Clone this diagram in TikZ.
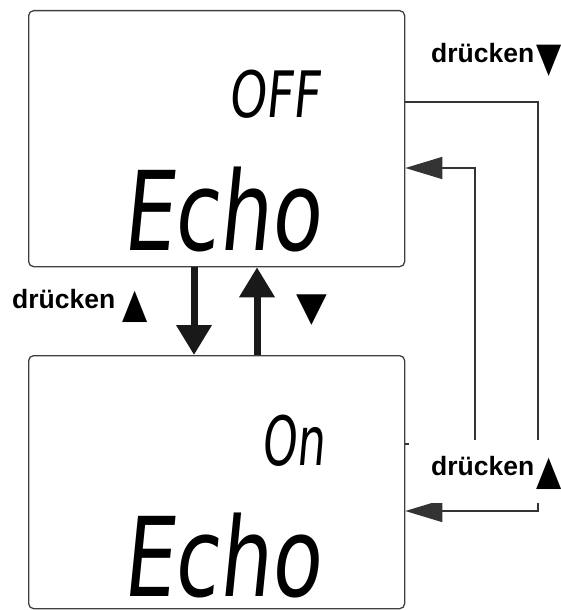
\documentclass[tikz,border=0pt]{standalone}
\usepackage{fontspec}
\usepackage{graphicx}
\setmainfont{Liberation Sans}
\newfontfamily\lcdfont[FakeStretch=0.74,FakeSlant=0.10]{DejaVu Sans}
\newfontfamily\symfont{DejaVu Sans}
\usetikzlibrary{arrows.meta}

% key-triangle that hangs below the baseline like the printed symbols
\newcommand{\keysym}[1]{\raisebox{-9pt}{\scalebox{0.8}[1]{\symfont\fontsize{41}{41}\selectfont #1}}}

\begin{document}
\begin{tikzpicture}[x=1pt,y=-1pt,
  screen/.style={draw=black!75, line width=1.3pt, rounded corners=5pt,
                 minimum width=376pt, inner sep=0pt, anchor=north west},
  link/.style={draw=black!80, line width=1.5pt},
  linkhead/.style={-{Triangle[length=37pt,width=22pt]}},
  bigarrow/.style={draw=black!90, line width=7pt,
                   -{Triangle[length=30pt,width=34pt]}},
  keylabel/.style={font=\bfseries\fontsize{26.5}{30}\selectfont,
                   inner sep=0pt, anchor=base west},
  lcd/.style={inner sep=0pt, anchor=base west, text depth=0pt}
]
\useasboundingbox (0,0) rectangle (560,610);

% the two display screens
\node[screen, minimum height=256pt] (off) at (28,10) {};
\node[screen, minimum height=253pt] (on)  at (28,355) {};

% display readings
\node[lcd, font=\lcdfont\fontsize{64}{64}\selectfont] (offval) at (228,117) {OFF};
\node[lcd, font=\lcdfont\fontsize{110}{110}\selectfont] (offecho) at (122,250) {Echo};
\node[lcd, font=\lcdfont\fontsize{68}{68}\selectfont] (onval) at (261,465) {\scalebox{0.88}[1]{On}};
\node[lcd, font=\lcdfont\fontsize{110}{110}\selectfont] (onecho) at (122,596) {Echo};

% direct switching between the screens
\coordinate (dn) at (194,0);
\coordinate (up) at (257,0);
\draw[bigarrow] (off.south -| dn) -- (on.north -| dn);
\draw[bigarrow] (on.north -| up) -- (off.south -| up);
\node[keylabel] (keyupL) at (12,308) {drücken \keysym{▲}};
\node[inner sep=0pt, font=\symfont\fontsize{40}{40}\selectfont] (keydnS) at (311.5,310) {▼};

% loop on the right side
\coordinate (outerA) at (538,102);
\coordinate (outerB) at (538,511);
\coordinate (innerA) at (475,444);
\coordinate (innerB) at (475,168);
\draw[link, linkhead] (off.east |- outerA) -- (outerA) -- (outerB) -- (on.east |- outerB);
\draw[link, linkhead] (on.east |- innerA) -- (innerA) -- (innerB) -- (off.east |- innerB);

\node[keylabel] (keydnR) at (431,63) {drücken\hspace{2pt}\keysym{▼}};
\node[keylabel, fill=white, text height=35pt, text depth=28pt] (keyupR)
  at (409,475) {\hspace{22pt}drücken\hspace{2pt}\keysym{▲}};
\end{tikzpicture}
\end{document}
